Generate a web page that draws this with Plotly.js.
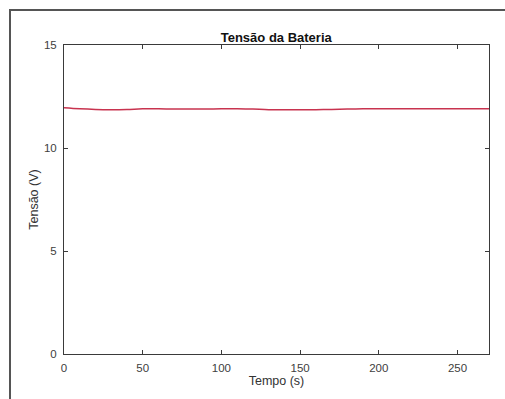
<!DOCTYPE html>
<html>
<head>
<meta charset="utf-8">
<script src="https://cdn.plot.ly/plotly-3.0.1.min.js"></script>
<style>
html,body{margin:0;padding:0;background:#fff;}
#wrap{position:relative;width:505px;height:399px;overflow:hidden;}
#frame{position:absolute;left:9px;top:9px;width:600px;height:500px;border-left:2px solid #555;border-top:2px solid #555;box-sizing:border-box;pointer-events:none;}
#chart{position:absolute;left:0;top:0;width:505px;height:399px;}
</style>
</head>
<body>
<div id="wrap"><div id="chart"></div><div id="frame"></div></div>
<script>
var tempo = [0, 10, 20, 30, 40, 50, 60, 70, 80, 90, 100, 110, 120, 130, 140, 150, 160, 170, 180, 190, 200, 210, 220, 230, 240, 250, 260, 270];
var tensao = [11.95, 11.90, 11.87, 11.86, 11.87, 11.90, 11.90, 11.89, 11.89, 11.89, 11.90, 11.91, 11.89, 11.86, 11.86, 11.86, 11.86, 11.87, 11.89, 11.90, 11.90, 11.90, 11.90, 11.90, 11.90, 11.90, 11.90, 11.90];
var xTicks = [0, 50, 100, 150, 200, 250];
var yTicks = [0, 5, 10, 15];

var axisCommon = {
  showline: true, linecolor: '#3a3a3a', linewidth: 1, mirror: 'ticks',
  ticks: 'inside', ticklen: 4, tickcolor: '#3a3a3a', tickwidth: 1,
  showgrid: false, zeroline: false,
  tickfont: {family: 'Liberation Sans, Arial, sans-serif', size: 11.5, color: '#404040'}
};

Plotly.newPlot('chart', [{
  x: tempo, y: tensao, type: 'scatter', mode: 'lines',
  line: {color: '#c8334f', width: 1.5, shape: 'spline'}
}], {
  width: 505, height: 399,
  margin: {l: 64, r: 16, t: 45, b: 45},
  paper_bgcolor: '#ffffff', plot_bgcolor: '#ffffff',
  showlegend: false,
  title: {text: '<b>Tensão da Bateria</b>', x: 0.547, xanchor: 'center', y: 0.907, yanchor: 'middle',
    font: {family: 'Liberation Sans, Arial, sans-serif', size: 13, color: '#111'}},
  xaxis: Object.assign({}, axisCommon, {
    range: [0, 270], tickvals: xTicks, ticktext: xTicks.map(String), ticklabelstandoff: 3,
    title: {text: 'Tempo (s)', standoff: 0, font: {family: 'Liberation Sans, Arial, sans-serif', size: 12.5, color: '#333'}}
  }),
  yaxis: Object.assign({}, axisCommon, {
    range: [0, 15], tickvals: yTicks, ticktext: yTicks.map(String), ticklabelstandoff: 4,
    title: {text: 'Tensão (V)', standoff: 2, font: {family: 'Liberation Sans, Arial, sans-serif', size: 12.5, color: '#333'}}
  })
}, {staticPlot: true});
</script>
</body>
</html>
